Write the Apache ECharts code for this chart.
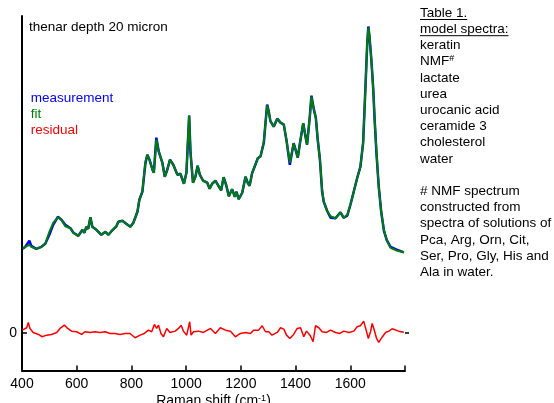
<!DOCTYPE html>
<html><head><meta charset="utf-8">
<script src="https://cdn.jsdelivr.net/npm/echarts@6/dist/echarts.min.js"></script>
<style>html,body{margin:0;padding:0;background:#fff}#c{width:554px;height:403px}</style>
</head><body><div id="c"></div>
<script>
// Raman shift (cm-1) for the measured / fitted spectrum
const shiftSpec = [403,408,412,427,434,452,471,485,500,514,531,544,558,577,588,606,621,628,635,642,650,657,672,690,705,716,730,745,752,767,781,796,807,822,829,840,851,858,866,877,882,891,900,913,922,931,941,953,968,979,992,1001,1011,1016,1025,1034,1042,1050,1062,1077,1086,1095,1107,1119,1128,1137,1147,1156,1168,1178,1184,1192,1205,1217,1225,1232,1241,1253,1262,1272,1284,1290,1296,1302,1308,1320,1333,1345,1357,1367,1379,1393,1400,1408,1418,1428,1436,1442,1452,1458,1467,1474,1481,1489,1497,1503,1516,1528,1546,1564,1576,1589,1601,1613,1625,1637,1647,1652,1657,1662,1666,1670,1677,1684,1689,1696,1704,1713,1723,1733,1747,1772,1796];
// fit intensity (a.u., offset spectrum)
const fitVals = [0.84,0.85,0.86,0.88,0.86,0.84,0.86,0.89,1.01,1.10,1.155,1.13,1.065,1.045,1.00,0.97,1.03,1.00,1.06,1.04,1.155,1.06,1.03,0.98,1.01,0.98,1.025,1.065,1.11,1.12,1.09,1.06,1.10,1.21,1.33,1.41,1.71,1.78,1.73,1.63,1.60,1.93,1.81,1.70,1.56,1.63,1.73,1.68,1.58,1.59,1.49,1.60,2.17,1.80,1.50,1.56,1.67,1.58,1.52,1.50,1.44,1.49,1.52,1.465,1.425,1.555,1.47,1.365,1.435,1.36,1.41,1.335,1.40,1.56,1.50,1.47,1.595,1.68,1.745,1.765,1.915,2.095,2.27,2.21,2.115,2.06,2.14,2.10,2.08,1.92,1.70,1.895,1.83,1.75,1.93,2.095,1.965,1.88,2.16,2.36,2.23,2.15,1.93,1.73,1.43,1.31,1.215,1.165,1.145,1.205,1.15,1.18,1.285,1.415,1.545,1.66,1.90,2.23,2.56,2.895,3.05,2.965,2.73,2.43,2.13,1.80,1.46,1.21,1.03,0.93,0.85,0.82,0.805];
// measured intensity (a.u.)
const measVals = [0.84,0.85,0.86,0.92,0.87,0.84,0.86,0.89,0.98,1.08,1.16,1.13,1.08,1.045,1.00,0.97,1.03,1.00,1.06,1.04,1.155,1.06,1.03,0.98,1.01,0.98,1.025,1.065,1.11,1.12,1.09,1.06,1.10,1.21,1.33,1.41,1.69,1.78,1.73,1.63,1.60,1.95,1.81,1.70,1.56,1.63,1.73,1.68,1.58,1.59,1.49,1.60,2.17,1.80,1.50,1.56,1.67,1.58,1.52,1.50,1.44,1.49,1.52,1.465,1.425,1.555,1.47,1.365,1.435,1.36,1.41,1.335,1.40,1.56,1.50,1.47,1.595,1.68,1.745,1.765,1.90,2.095,2.28,2.21,2.115,2.06,2.14,2.10,2.08,1.92,1.68,1.895,1.83,1.75,1.93,2.095,1.965,1.88,2.16,2.37,2.23,2.15,1.93,1.73,1.41,1.31,1.215,1.15,1.145,1.205,1.15,1.17,1.285,1.415,1.545,1.66,1.90,2.23,2.56,2.895,3.06,2.965,2.73,2.43,2.13,1.78,1.46,1.21,1.02,0.93,0.86,0.83,0.805];
// residual (measurement - fit), same units
const shiftRes = [401,408,417,423,429,441,460,474,490,508,527,539,555,567,581,600,618,630,649,667,685,704,722,740,758,777,795,813,832,847,862,874,884,892,899,908,917,929,941,960,972,982,990,1002,1008,1013,1018,1027,1045,1063,1089,1107,1125,1144,1162,1180,1198,1217,1235,1247,1265,1278,1290,1302,1314,1333,1345,1357,1367,1379,1393,1406,1418,1430,1440,1454,1464,1473,1485,1497,1513,1528,1546,1562,1576,1595,1613,1625,1637,1649,1658,1666,1674,1680,1686,1696,1704,1717,1729,1741,1753,1777,1796];
const resVals = [0.028,0.045,0.052,0.105,0.045,0.005,-0.015,-0.038,-0.022,-0.015,0.005,0.045,0.078,0.045,0.018,0.012,-0.015,0.012,0.005,0.012,0.005,0.012,-0.005,-0.005,-0.015,-0.005,-0.005,-0.048,-0.022,-0.005,0.028,0.012,0.085,0.045,0.078,-0.005,-0.038,0.045,0.005,0.018,0.045,0.078,0.018,-0.022,-0.015,0.112,-0.022,0.012,0.018,0.005,0.045,-0.005,0.052,0.028,0.018,-0.038,-0.005,0.005,-0.005,0.028,0.028,0.072,0.012,0.012,-0.022,0.005,0.052,0.038,-0.022,-0.055,-0.015,0.045,0.052,-0.038,0.018,-0.028,-0.088,0.072,0.052,0.012,0.005,0.028,0.005,-0.005,0.018,0.005,0.018,0.062,0.072,0.118,0.028,-0.055,0.012,0.095,0.045,-0.055,-0.095,-0.04,0.005,0.018,0.042,0.018,0.008];

const xTickValues = [400,600,800,1000,1200,1400,1600,1800];
const xTickLabels = [400,600,800,1000,1200,1400,1600];
const yTickValues = [0];

const chartTitle = 'thenar depth 20 micron';
const seriesNames = ['measurement','fit','residual'];
const tableLines = ['Table 1.','model spectra:','keratin','NMF#','lactate','urea','urocanic acid','ceramide 3','cholesterol','water','','# NMF spectrum','constructed from','spectra of solutions of','Pca, Arg, Orn, Cit,','Ser, Pro, Gly, His and','Ala in water.'];
const underlined = ['Table 1.','model spectra:'];

const FF = '"Liberation Sans", Arial, Helvetica, sans-serif';
const FS = 13.5;
const COLORS = {measurement:'#0000ff', fit:'#008000', residual:'#ff0000'};

const zip = (xs, ys) => xs.map((x, i) => [x, ys[i]]);

const mctx = document.createElement('canvas').getContext('2d');
mctx.font = FS + 'px "Liberation Sans"';

const TX = 420, TY0 = 13, TLH = 16.2;
const graphics = [];
tableLines.forEach((t, i) => {
  if (!t) return;
  const y = TY0 + i * TLH;
  const el = {type:'text', x: TX, y: y, silent:true, style:{fill:'#000', fontSize:FS, fontFamily:FF, verticalAlign:'middle', align:'left'}};
  if (t.endsWith('#') && t.length > 1) {
    el.style.text = '{a|' + t.slice(0, -1) + '}{s|#}';
    el.style.rich = {a:{fontSize:FS, fontFamily:FF, fill:'#000', lineHeight:15}, s:{fontSize:9, fontFamily:FF, fill:'#000', verticalAlign:'top', lineHeight:10}};
  } else {
    el.style.text = t;
  }
  graphics.push(el);
  if (underlined.indexOf(t) >= 0) {
    const w = mctx.measureText(t).width;
    graphics.push({type:'line', silent:true, shape:{x1:TX, y1:y+6.5, x2:TX+w, y2:y+6.5}, style:{stroke:'#000', lineWidth:1}});
  }
});

const chart = echarts.init(document.getElementById('c'), null, {renderer:'canvas'});
chart.setOption({
  animation:false,
  backgroundColor:'#ffffff',
  title:{text:chartTitle, left:29, top:20, padding:0, textStyle:{fontSize:FS, fontWeight:'normal', fontFamily:FF, color:'#000', lineHeight:14}},
  legend:{
    orient:'vertical', left:20.7, top:86, icon:'none', itemWidth:0, itemHeight:14, itemGap:2, selectedMode:false,
    textStyle:{fontSize:FS, fontFamily:FF},
    data: seriesNames.map(n => ({name:n, textStyle:{color:COLORS[n]}}))
  },
  grid:{left:22, right:149, top:16, bottom:32.5, containLabel:false, outerBoundsMode:'none'},
  xAxis:{
    type:'value', min:400, max:1800, interval:200,
    name:'{a|Raman shift (cm}{s|-1}{a|)}', nameLocation:'middle', nameGap:23.5, nameMoveOverlap:false,
    nameTextStyle:{verticalAlign:'top', rich:{a:{fontSize:14, fontFamily:FF, color:'#000'}, s:{fontSize:9, fontFamily:FF, color:'#000', verticalAlign:'top'}}},
    axisLine:{show:true, onZero:false, lineStyle:{color:'#000', width:2}},
    axisTick:{show:true, inside:true, length:5, customValues:xTickValues, lineStyle:{color:'#000', width:1.5}},
    axisLabel:{customValues:xTickLabels, formatter:v => String(v), fontSize:14, fontFamily:FF, color:'#000', margin:7},
    splitLine:{show:false}
  },
  yAxis:[{
    type:'value', min:-0.375, max:3.165, position:'left',
    axisLine:{show:true, lineStyle:{color:'#000', width:2}},
    axisTick:{show:true, inside:true, length:5, customValues:yTickValues, lineStyle:{color:'#000', width:1.5}},
    axisLabel:{customValues:yTickValues, formatter:v => String(v), fontSize:14, fontFamily:FF, color:'#000', margin:5},
    splitLine:{show:false}
  },{
    type:'value', min:-0.375, max:3.165, position:'right',
    axisLine:{show:false},
    axisTick:{show:true, inside:false, length:4, customValues:yTickValues, lineStyle:{color:'#000', width:1.5}},
    axisLabel:{show:false},
    splitLine:{show:false}
  }],
  series:[
    {name:'measurement', type:'line', data:zip(shiftSpec, measVals), showSymbol:false, symbol:'none', z:2, lineStyle:{color:COLORS.measurement, width:2.5}, itemStyle:{color:COLORS.measurement}},
    {name:'fit', type:'line', data:zip(shiftSpec, fitVals), showSymbol:false, symbol:'none', z:3, lineStyle:{color:COLORS.fit, width:2}, itemStyle:{color:COLORS.fit}},
    {name:'residual', type:'line', data:zip(shiftRes, resVals), showSymbol:false, symbol:'none', z:2, lineStyle:{color:COLORS.residual, width:1.5}, itemStyle:{color:COLORS.residual}}
  ],
  graphic: graphics
});
</script>
</body></html>
